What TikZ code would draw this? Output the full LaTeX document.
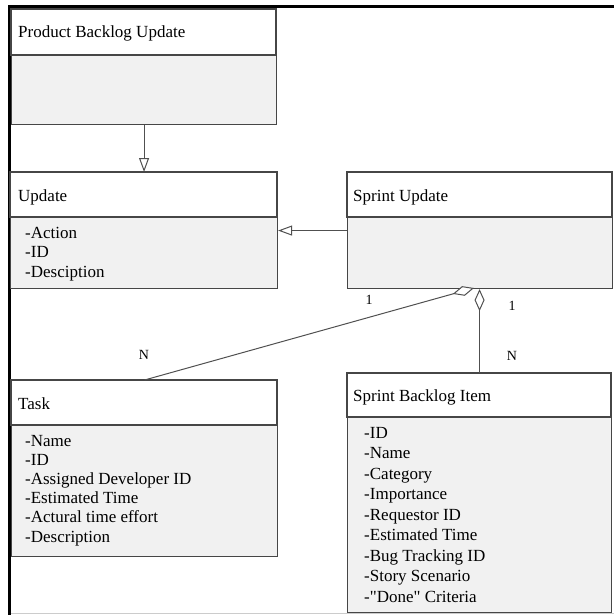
\documentclass[tikz,border=0pt]{standalone}
\usepackage{fontspec}
\setmainfont{Liberation Serif}[Ligatures=TeXOff]
\usetikzlibrary{arrows.meta}

\definecolor{bodygray}{RGB}{241,241,241}
\definecolor{edge}{RGB}{70,70,70}
\definecolor{wire}{RGB}{80,80,80}

\tikzset{
  classbox/.style={draw=edge, line width=1.1pt, fill=bodygray, inner sep=0pt, anchor=north west},
  headpart/.style={draw=edge, line width=1.1pt, fill=white},
  classname/.style={font=\fontsize{17}{19}\selectfont, anchor=base west, inner sep=0pt},
  attr/.style={font=\fontsize{17}{19}\selectfont, anchor=base west, inner sep=0pt},
  mult/.style={font=\fontsize{14}{16}\selectfont, inner sep=0pt},
  gen/.style={draw=wire, line width=1pt, -{Triangle[open, length=14pt, width=10pt, fill=white]}},
  agg/.style={draw=wire, line width=1pt, -{Diamond[open, length=22pt, width=10pt, fill=white]}},
}

\begin{document}
\begin{tikzpicture}[x=1pt, y=-1pt]
\useasboundingbox (0,0) rectangle (614,615);

% outer frame
\draw[line width=3pt] (9.5,615) -- (9.5,7) -- (614,7);
\draw[black!20, line width=0.8pt] (11,613.5) -- (614,613.5);

% Product Backlog Update
\node[classbox, minimum width=265pt, minimum height=115pt] (pbu) at (11,9) {};
\draw[headpart] (11,9) rectangle (276,55);
\node[classname] (pbuT) at (18,38) {Product Backlog Update};

% Update
\node[classbox, minimum width=267pt, minimum height=116pt] (upd) at (10,172) {};
\draw[headpart] (10,172) rectangle (277,217);
\node[classname] (updT) at (18,201) {Update};
\foreach \t [count=\i from 0] in {-Action, -ID, -Desciption}
  \node[attr] (updA\i) at (25,238+19.5*\i) {\t};

% Sprint Update
\node[classbox, minimum width=265pt, minimum height=116pt] (spu) at (347,172) {};
\draw[headpart] (347,172) rectangle (612,217);
\node[classname] (spuT) at (353,201) {Sprint Update};

% Task
\node[classbox, minimum width=266pt, minimum height=176pt] (task) at (11,380) {};
\draw[headpart] (11,380) rectangle (277,425);
\node[classname] (taskT) at (18,409) {Task};
\foreach \t [count=\i from 0] in {-Name, -ID, -Assigned Developer ID, -Estimated Time, -Actural time effort, -Description}
  \node[attr] (taskA\i) at (25,446+19.2*\i) {\t};

% Sprint Backlog Item
\node[classbox, minimum width=264pt, minimum height=239pt] (sbi) at (347,373) {};
\draw[headpart] (347,373) rectangle (611,417);
\node[classname] (sbiT) at (353,401) {Sprint Backlog Item};
\foreach \t [count=\i from 0] in {-ID, -Name, -Category, -Importance, -Requestor ID, -Estimated Time, -Bug Tracking ID, -Story Scenario, -"Done" Criteria}
  \node[attr] (sbiA\i) at (364,438+20.5*\i) {\t};

% generalisations
\draw[gen] (pbu.south) -- (upd.north);
\draw[gen] (spu.west) -- (upd.east);

% aggregations
\coordinate (aggTip) at (474,288);
\draw[agg] (task.north) -- (aggTip);
\draw[agg] (sbi.north) -- (sbi.north |- spu.south);

% multiplicities
\node[mult] (m1) at (369,300) {1};
\node[mult] (m2) at (512,306) {1};
\node[mult] (m3) at (144,355) {N};
\node[mult] (m4) at (512,356) {N};
\end{tikzpicture}
\end{document}
